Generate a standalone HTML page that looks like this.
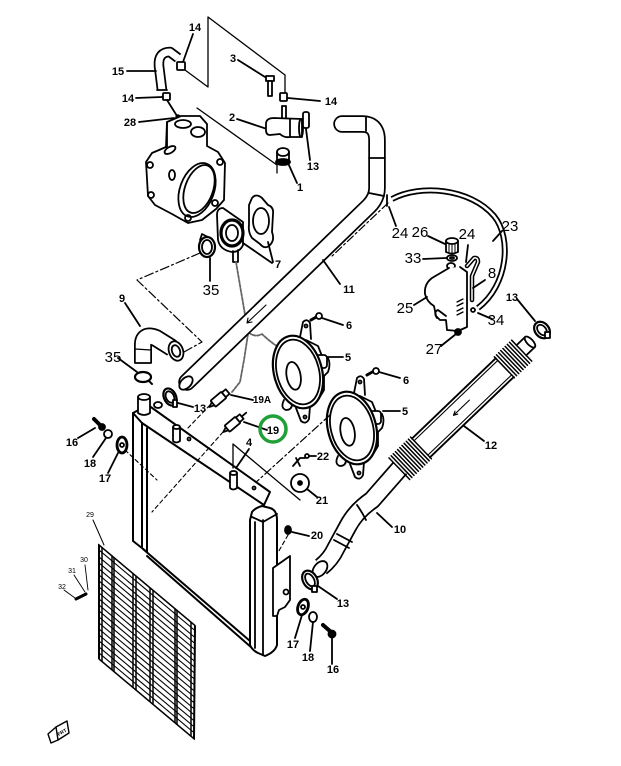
<!DOCTYPE html>
<html><head><meta charset="utf-8">
<style>
html,body{margin:0;padding:0;background:#fff;width:621px;height:766px;overflow:hidden}
svg{display:block}
text{font-family:"Liberation Sans",Arial,sans-serif;fill:#000;stroke:none;text-anchor:middle}
.l{font-size:11px;font-weight:bold}
.b{font-size:15px}
.t{font-size:7px}
</style></head><body>
<svg width="621" height="766" viewBox="0 0 621 766" xmlns="http://www.w3.org/2000/svg">
<rect width="621" height="766" fill="#fff"/>
<g fill="none" stroke="#000" stroke-width="1.8" stroke-linecap="round" stroke-linejoin="round">

<!-- top brackets -->
<path d="M208,17 L285,75 L285,92 M208,17 L208,87 L185,70" stroke-width="1.3"/>
<path d="M197,108 L277,165 L277,173" stroke-width="1.3"/>

<!-- 14 top / hose 15 -->
<path d="M193,34 L183,62"/>
<rect x="177" y="62" width="8" height="8" rx="1" fill="#fff"/>
<path d="M162,90 L159,66 Q158,52 170,52 L178,58" stroke-width="10.5" stroke-linecap="butt"/>
<path d="M162,90 L159,66 Q158,52 170,52 L178,58" stroke="#fff" stroke-width="7" stroke-linecap="butt"/>
<path d="M157,90 L167,90"/>
<path d="M127,71 L156,71"/>
<!-- 14 left / 28 -->
<path d="M136,98 L162,97"/>
<rect x="163" y="93" width="7" height="7" rx="1" fill="#fff"/>
<path d="M167,100 L177,116"/>
<circle cx="178" cy="117" r="1.8" fill="#000"/>
<path d="M139,122 L174,118"/>
<!-- 3 bolt -->
<path d="M238,60 L265,77"/>
<rect x="266" y="76" width="8" height="5" fill="#fff"/>
<rect x="268" y="81" width="4" height="15" fill="#fff"/>
<!-- 14 right -->
<rect x="280" y="93" width="7" height="8" rx="1" fill="#fff"/>
<path d="M288,98 L320,101"/>
<!-- part 2 -->
<path d="M237,119 L267,129"/>
<rect x="282" y="106" width="4" height="13" fill="#fff"/>
<path d="M266,124 Q266,118 274,118 L302,119 L302,137 L290,137 Q284,138 280,134 L270,135 Q266,135 266,130 Z" fill="#fff"/>
<path d="M290,119 L290,137"/>
<ellipse cx="301" cy="128" rx="2" ry="9"/>
<!-- 13 small clamp -->
<rect x="303" y="112" width="6" height="16" rx="2" fill="#fff"/>
<path d="M310,160 L306,129"/>
<!-- part 1 -->
<rect x="277" y="152" width="12" height="10" fill="#fff"/>
<ellipse cx="283" cy="152" rx="6" ry="4" fill="#fff"/>
<ellipse cx="283" cy="162" rx="7" ry="3" fill="#000"/>
<path d="M297,183 L288,163"/>

<!-- housing -->
<path d="M167,122 L181,116 L200,116 L207,124 L207,146 L218,152 L225,163 L224,200 L216,209 L202,220 L188,223 L172,214 L155,205 L148,196 L146,162 L152,153 L166,147 Z" fill="#fff"/>
<ellipse cx="183" cy="124" rx="8" ry="4"/>
<ellipse cx="198" cy="132" rx="7" ry="5"/>
<path d="M167,122 L167,147"/>
<ellipse cx="197" cy="190" rx="17" ry="28" transform="rotate(20 197 190)"/>
<ellipse cx="199" cy="189" rx="14" ry="25" transform="rotate(20 199 189)"/>
<ellipse cx="172" cy="175" rx="3" ry="5"/>
<ellipse cx="170" cy="150" rx="6" ry="3" transform="rotate(-30 170 150)"/>
<circle cx="150" cy="165" r="3"/><circle cx="151" cy="195" r="3"/>
<circle cx="215" cy="203" r="3"/><circle cx="220" cy="162" r="3"/>
<circle cx="188" cy="218" r="3"/>

<!-- pump cover -->
<path d="M217,215 Q217,208 223,208 L243,222 L243,245 Q240,252 232,252 Q220,250 218,240 Z" fill="#fff"/>
<ellipse cx="232" cy="233" rx="11" ry="13" stroke-width="3.2"/>
<ellipse cx="232" cy="233" rx="6" ry="8"/>
<path d="M233,251 L233,262 L238,262 L238,250"/>
<!-- gasket 7 -->
<path d="M252,198 Q256,193 262,198 L268,205 Q274,207 273,214 L272,232 Q275,240 270,245 Q265,250 260,244 L252,238 Q248,232 249,225 L249,205 Z" fill="#fff"/>
<ellipse cx="261" cy="221" rx="8" ry="13"/>
<path d="M243,243 L272,263 M268,242 L273,262"/>
<!-- clamp 35 upper -->
<ellipse cx="207" cy="247" rx="8" ry="10" stroke-width="2.2" fill="#fff"/>
<ellipse cx="207" cy="247" rx="5" ry="7"/>
<path d="M200,240 L202,234 L208,237"/>
<path d="M210,258 L210,281"/>
<path d="M200,253 L137,280 L202,342 L184,352" stroke-width="1.2" stroke-dasharray="9,3,2,3"/>

<!-- wire -->
<path d="M236,262 L248,332 Q255,338 262,334 Q268,340 278,347 M248,334 L244,360 L240,382 L232,392" stroke="#666" stroke-width="1.8" stroke-dasharray="3,1.5"/>

<!-- hose 11 -->
<path d="M342,124 L362,124 Q377,124 377,140 L377,188 Q377,198 369,206 L187,382" stroke-width="17.5"/>
<path d="M342,124 L362,124 Q377,124 377,140 L377,188 Q377,198 369,206 L187,382" stroke="#fff" stroke-width="14"/>
<path d="M366,117 L366,131 M369,158 L385,158 M369,193 L384,196"/>
<ellipse cx="186" cy="383" rx="5" ry="8" transform="rotate(45 186 383)" fill="#fff"/>
<path d="M266,305 L247,323 M247,323 L252,322 M247,323 L248,318" stroke-width="1.1"/>
<path d="M388,203 L330,258" stroke-width="1.2" stroke-dasharray="8,3,2,3"/>
<path d="M340,284 L323,260"/>

<!-- hose 23 -->
<path d="M392,199 C420,184 470,188 494,216 C512,238 508,285 478,308" stroke-width="6" stroke-linecap="butt"/>
<path d="M392,199 C420,184 470,188 494,216 C512,238 508,285 478,308" stroke="#fff" stroke-width="2.5" stroke-linecap="butt"/>
<path d="M387,195 L387,206"/>
<path d="M396,226 L389,207"/>
<path d="M502,231 L493,241"/>

<!-- reservoir -->
<path d="M446,241 L446,252 Q452,255 458,252 L458,241" fill="#fff"/>
<ellipse cx="452" cy="241" rx="6" ry="3" fill="#fff"/>
<path d="M449,243 L449,252 M452,244 L452,253 M455,243 L455,252" stroke-width="1"/>
<path d="M428,236 L445,244"/>
<ellipse cx="452" cy="258" rx="5" ry="3"/>
<ellipse cx="452" cy="258" rx="2" ry="1"/>
<path d="M423,259 L446,258"/>
<ellipse cx="451" cy="266" rx="4" ry="3"/>
<path d="M449,268 L432,278 Q424,284 425,294 Q427,302 434,306 L436,316 L440,320 L446,320 L447,330 L458,331 L467,327 L467,272 L460,267" fill="#fff"/>
<path d="M467,266 L474,258 Q478,257 478,262 L472,276 L472,300" stroke-width="4.5"/>
<path d="M467,266 L474,258 Q478,257 478,262 L472,276 L472,300" stroke="#fff" stroke-width="1.5"/>
<path d="M468,245 L466,262"/>
<path d="M485,280 L473,288"/>
<path d="M457,302 L463,299 M457,306 L463,303 M457,311 L463,308 M457,315 L463,312" stroke-width="1.3"/>
<path d="M437,318 Q433,312 438,310 L446,316"/>
<path d="M414,305 L427,297"/>
<circle cx="473" cy="310" r="2"/>
<path d="M478,313 L492,319"/>
<path d="M441,346 L456,334"/>
<circle cx="458" cy="332" r="3" fill="#000"/>
<!-- clamp 13 right -->
<ellipse cx="542" cy="330" rx="7" ry="9" transform="rotate(-40 542 330)" stroke-width="2.2" fill="#fff"/>
<ellipse cx="542" cy="330" rx="4" ry="6" transform="rotate(-40 542 330)"/>
<rect x="545" y="332" width="5" height="6" fill="#fff"/>
<path d="M517,299 L535,321"/>

<!-- hose 10 -->
<path d="M400,468 L372,500 Q356,511 348,526 L336,548 Q331,559 321,567" stroke-width="19" stroke-linecap="butt"/>
<path d="M400,468 L372,500 Q356,511 348,526 L336,548 Q331,559 321,567" stroke="#fff" stroke-width="15.5" stroke-linecap="butt"/>
<path d="M357,505 Q362,512 366,520 M337,534 L352,542 M334,540 L349,548"/>
<ellipse cx="320" cy="569" rx="6" ry="9" transform="rotate(40 320 569)" fill="#fff"/>
<path d="M392,527 L377,513"/>

<!-- hose 12 -->
<g transform="translate(530,342) rotate(136.2)">
<path d="M0,-7 L12,-7 M0,7 L12,7" stroke-width="1.8"/>
<ellipse cx="0" cy="0" rx="3" ry="7" fill="#fff"/>
<path d="M36,12 L152,12 M36,-14 L152,-14" stroke-width="1.9"/>
<path d="M36,9 L152,9 M36,-11 L152,-11" stroke-width="1.1"/>
<path d="M12,-15 L12,14 M15,-15 L15,14 M18,-15 L18,14 M21,-15 L21,14 M24,-15 L24,14 M27,-15 L27,14 M30,-15 L30,14 M33,-15 L33,14 M36,-15 L36,14" stroke-width="1.5"/>
<path d="M152,-16 L152,14 M155,-16 L155,14 M158,-16 L158,14 M161,-16 L161,14 M164,-16 L164,14 M167,-16 L167,14 M170,-16 L170,14 M173,-16 L173,14 M176,-16 L176,14 M179,-16 L179,14 M182,-16 L182,14" stroke-width="1.5"/>
<path d="M106,0 L84,0 M106,0 L102,-2 M106,0 L102,2" stroke-width="1.1"/>
</g>
<path d="M484,441 L464,426"/>

<!-- lower parts -->
<ellipse cx="310" cy="580" rx="7" ry="10" transform="rotate(-30 310 580)" stroke-width="2.2" fill="#fff"/>
<ellipse cx="310" cy="580" rx="4" ry="7" transform="rotate(-30 310 580)"/>
<rect x="312" y="586" width="5" height="6" fill="#fff"/>
<path d="M337,599 L318,586"/>
<ellipse cx="303" cy="607" rx="5" ry="8" transform="rotate(20 303 607)" stroke-width="2.8" fill="#fff"/>
<circle cx="303" cy="607" r="2"/>
<path d="M295,638 L302,615"/>
<ellipse cx="313" cy="617" rx="4" ry="5" fill="#fff"/>
<path d="M310,651 L313,622"/>
<path d="M323,625 L331,632" stroke-width="4"/>
<circle cx="332" cy="634" r="3.5" fill="#000"/>
<path d="M332,664 L332,638"/>
<ellipse cx="288" cy="530" rx="3" ry="4" fill="#000"/>
<path d="M292,532 L309,536"/>
<path d="M288,535 L276,556" stroke-width="1.1" stroke-dasharray="4,3"/>

<!-- fan 1 -->
<g transform="translate(298,372)">
<path d="M2,-35 L5,-50 Q9,-54 12,-49 L13,-33" fill="#fff"/>
<circle cx="8" cy="-46" r="1.5"/>
<path d="M-2,36 L3,49 Q8,53 11,47 L12,34" fill="#fff"/>
<circle cx="7" cy="45" r="1.5"/>
<path d="M-14,28 Q-18,36 -12,38 Q-6,38 -6,32" fill="#fff"/>
<path d="M8,-32 L20,-26 L24,-16 L30,-14 Q33,-8 30,0 L26,4 L26,18 L20,28 L10,34" fill="#fff"/>
<rect x="18" y="-17" width="11" height="13" rx="3" fill="#fff"/>
<ellipse cx="0" cy="0" rx="24" ry="37" transform="rotate(-15)" fill="#fff" stroke-width="2.2"/>
<ellipse cx="0" cy="0" rx="21" ry="33" transform="rotate(-15)"/>
<ellipse cx="-5" cy="3" rx="7" ry="14" transform="rotate(-10)"/>
</g>
<path d="M311,320 L318,316" stroke-width="3"/>
<circle cx="319" cy="316" r="3" fill="#fff"/>
<path d="M322,318 L343,325"/>
<path d="M327,357 L343,357"/>
<!-- fan 2 -->
<g transform="translate(352,428)">
<path d="M2,-35 L5,-50 Q9,-54 12,-49 L13,-33" fill="#fff"/>
<circle cx="8" cy="-46" r="1.5"/>
<path d="M-2,36 L3,49 Q8,53 11,47 L12,34" fill="#fff"/>
<circle cx="7" cy="45" r="1.5"/>
<path d="M-14,28 Q-18,36 -12,38 Q-6,38 -6,32" fill="#fff"/>
<path d="M8,-32 L20,-26 L24,-16 L30,-14 Q33,-8 30,0 L26,4 L26,18 L20,28 L10,34" fill="#fff"/>
<rect x="18" y="-17" width="11" height="13" rx="3" fill="#fff"/>
<ellipse cx="0" cy="0" rx="24" ry="37" transform="rotate(-15)" fill="#fff" stroke-width="2.2"/>
<ellipse cx="0" cy="0" rx="21" ry="33" transform="rotate(-15)"/>
<ellipse cx="-5" cy="3" rx="7" ry="14" transform="rotate(-10)"/>
</g>
<path d="M367,375 L374,371" stroke-width="3"/>
<circle cx="376" cy="371" r="3" fill="#fff"/>
<path d="M379,372 L400,378"/>
<path d="M383,411 L400,411"/>
<path d="M330,415 L253,485" stroke-width="1.2" stroke-dasharray="8,3,2,3"/>

<!-- hose 9, clamps, filler -->
<path d="M143,363 L143,345 Q143,333 156,338 L172,348" stroke-width="18" stroke-linecap="butt"/>
<path d="M143,363 L143,345 Q143,333 156,338 L172,348" stroke="#fff" stroke-width="14.5" stroke-linecap="butt"/>
<path d="M135,363 L151,363"/>
<path d="M135,349 L151,350" stroke-width="1.2"/>
<ellipse cx="176" cy="351" rx="7" ry="10" transform="rotate(-20 176 351)" fill="#fff"/>
<ellipse cx="176" cy="351" rx="4" ry="6" transform="rotate(-20 176 351)"/>
<path d="M125,303 L140,326"/>
<ellipse cx="143" cy="377" rx="8" ry="5" stroke-width="2.2" fill="#fff"/>
<path d="M149,381 L152,384" stroke-width="2"/>
<path d="M118,358 L137,372"/>
<ellipse cx="170" cy="397" rx="6" ry="9" transform="rotate(-25 170 397)" stroke-width="2.2" fill="#fff"/>
<ellipse cx="170" cy="397" rx="4" ry="6" transform="rotate(-25 170 397)"/>
<rect x="173" y="400" width="4" height="7" fill="#fff"/>
<path d="M193,407 L178,403"/>

<!-- radiator -->
<path d="M133,413 L148,405 L270,492 L264,505 L142,423 Z" fill="#fff" stroke-width="2"/>
<path d="M133,413 L133,541 L147,552 L147,428 M142,423 L142,548" fill="none" stroke-width="2"/>
<path d="M143,549 L250,641 M147,556 L252,648" stroke-width="2"/>
<path d="M250,520 L250,645 Q252,650 258,653 L265,656 Q275,652 277,645 L277,520 Q277,510 270,508 L262,506 Q255,508 252,512 Z" fill="#fff" stroke-width="2"/>
<path d="M255,522 L255,648 M263,520 L263,655 M252,517 L263,522 L277,514"/>
<path d="M273,568 L290,556 L290,600 L285,607 L279,610 L277,616 L273,616 Z" fill="#fff"/>
<circle cx="286" cy="592" r="2.5"/>
<path d="M138,397 L138,413 Q144,417 150,413 L150,397" fill="#fff"/>
<ellipse cx="144" cy="397" rx="6" ry="3" fill="#fff"/>
<ellipse cx="158" cy="405" rx="4" ry="3" fill="#fff"/>
<path d="M173,427 L173,441 Q176,444 180,441 L180,427" fill="#fff"/>
<ellipse cx="176.5" cy="427" rx="3.5" ry="2" fill="#fff"/>
<path d="M230,473 L230,488 Q233,491 237,488 L237,473" fill="#fff"/>
<ellipse cx="233.5" cy="473" rx="3.5" ry="2" fill="#fff"/>
<circle cx="189" cy="439" r="1.5"/><circle cx="254" cy="488" r="1.5"/>

<!-- sensors -->
<g transform="translate(220,398) rotate(-40)">
<rect x="-9" y="-4" width="14" height="8" rx="1" fill="#fff"/>
<rect x="5" y="-3" width="5" height="6" fill="#fff"/>
<path d="M-9,-2 L-14,0 L-9,2"/>
</g>
<g transform="translate(234,423) rotate(-40)">
<rect x="-9" y="-4" width="14" height="8" rx="1" fill="#fff"/>
<rect x="5" y="-3" width="5" height="6" fill="#fff"/>
<path d="M-9,-2 L-14,0 L-9,2 M10,0 L16,0"/>
</g>
<path d="M253,400 L231,395"/>
<path d="M267,430 L244,422"/>
<path d="M210,405 L188,428" stroke-width="1.1" stroke-dasharray="4,3"/>
<path d="M223,432 L152,512" stroke-width="1.1" stroke-dasharray="4,3"/>
<path d="M125,450 L157,480" stroke-width="1.1" stroke-dasharray="4,3"/>
<!-- 4, 21, 22 -->
<path d="M233,444 L300,500 M233,444 L233,468" stroke-width="1.3"/>
<path d="M249,449 L236,468"/>
<path d="M293,466 L300,458 L305,458 M296,458 L300,466"/>
<circle cx="307" cy="456" r="2"/>
<path d="M309,456 L316,456"/>
<ellipse cx="300" cy="483" rx="9" ry="9" fill="#fff"/>
<circle cx="300" cy="483" r="2" fill="#000"/>
<path d="M307,489 L317,497"/>
<!-- left parts -->
<path d="M94,419 L101,426" stroke-width="4"/>
<circle cx="102" cy="427" r="3" fill="#000"/>
<path d="M78,438 L95,428"/>
<ellipse cx="108" cy="434" rx="4" ry="4" fill="#fff"/>
<path d="M93,457 L106,438"/>
<ellipse cx="122" cy="445" rx="5" ry="8" stroke-width="2.8" fill="#fff"/>
<circle cx="122" cy="445" r="2"/>
<path d="M108,473 L118,453"/>

<!-- grille -->
<g transform="translate(99,545) skewY(40)">
<path d="M0,0 L96,0 L95,114 L0,114 Z" stroke-width="2"/>
<path d="M0,5 L96,5" stroke-width="1.4"/>
<path d="M0,12 H95 M0,18 H95 M0,24 H95 M0,30 H95 M0,36 H95 M0,42 H95 M0,48 H95 M0,54 H95 M0,60 H95 M0,66 H95 M0,72 H95 M0,78 H95 M0,84 H95 M0,90 H95 M0,96 H95 M0,102 H95 M0,108 H95" stroke-width="1.4"/>
<path d="M3,0 V114 M13,0 V114 M15,0 V114 M34,0 V114 M37,0 V114 M51,0 V114 M54,0 V114 M76,0 V114 M78,0 V114 M92,0 V114" stroke-width="1.5"/>
</g>
<path d="M93,520 L104,545" stroke-width="1"/>
<path d="M85,565 L88,590 M74,575 L85,592 M64,590 L75,598" stroke-width="0.9"/>
<path d="M76,599 L86,594" stroke-width="3"/>
<!-- FRT -->
<path d="M56,727 L67,721 L69,733 L58,740 Z" fill="#fff" stroke-width="1.4"/>
<path d="M56,727 L48,734 L51,743 L58,740" stroke-width="1.4"/>
</g>

<!-- green highlight -->
<circle cx="273" cy="429" r="13" fill="none" stroke="#21a038" stroke-width="3.5"/>

<!-- labels -->
<g class="l">
<text x="195" y="31">14</text>
<text x="118" y="75">15</text>
<text x="233" y="62">3</text>
<text x="128" y="102">14</text>
<text x="331" y="105">14</text>
<text x="130" y="126">28</text>
<text x="232" y="121">2</text>
<text x="313" y="170">13</text>
<text x="300" y="191">1</text>
<text x="278" y="268">7</text>
<text x="349" y="293">11</text>
<text x="512" y="301">13</text>
<text x="122" y="302">9</text>
<text x="349" y="329">6</text>
<text x="348" y="361">5</text>
<text x="406" y="384">6</text>
<text x="405" y="415">5</text>
<text x="262" y="403" style="font-size:10px">19A</text>
<text x="200" y="412">13</text>
<text x="273" y="434">19</text>
<text x="72" y="446">16</text>
<text x="90" y="467">18</text>
<text x="105" y="482">17</text>
<text x="249" y="446">4</text>
<text x="323" y="460">22</text>
<text x="322" y="504">21</text>
<text x="491" y="449">12</text>
<text x="317" y="539">20</text>
<text x="400" y="533">10</text>
<text x="343" y="607">13</text>
<text x="293" y="648">17</text>
<text x="308" y="661">18</text>
<text x="333" y="673">16</text>
</g>
<g class="b">
<text x="211" y="295">35</text>
<text x="400" y="238">24</text>
<text x="420" y="237">26</text>
<text x="467" y="239">24</text>
<text x="510" y="231">23</text>
<text x="413" y="263">33</text>
<text x="492" y="278">8</text>
<text x="405" y="313">25</text>
<text x="496" y="325">34</text>
<text x="434" y="354">27</text>
<text x="113" y="362">35</text>
</g>
<g class="t">
<text x="90" y="517">29</text>
<text x="84" y="562">30</text>
<text x="72" y="573">31</text>
<text x="62" y="589">32</text>
<text x="62" y="734" style="font-size:5px;font-weight:bold" transform="rotate(-30 62 732)">FRT</text>
</g>
</svg>
</body></html>
